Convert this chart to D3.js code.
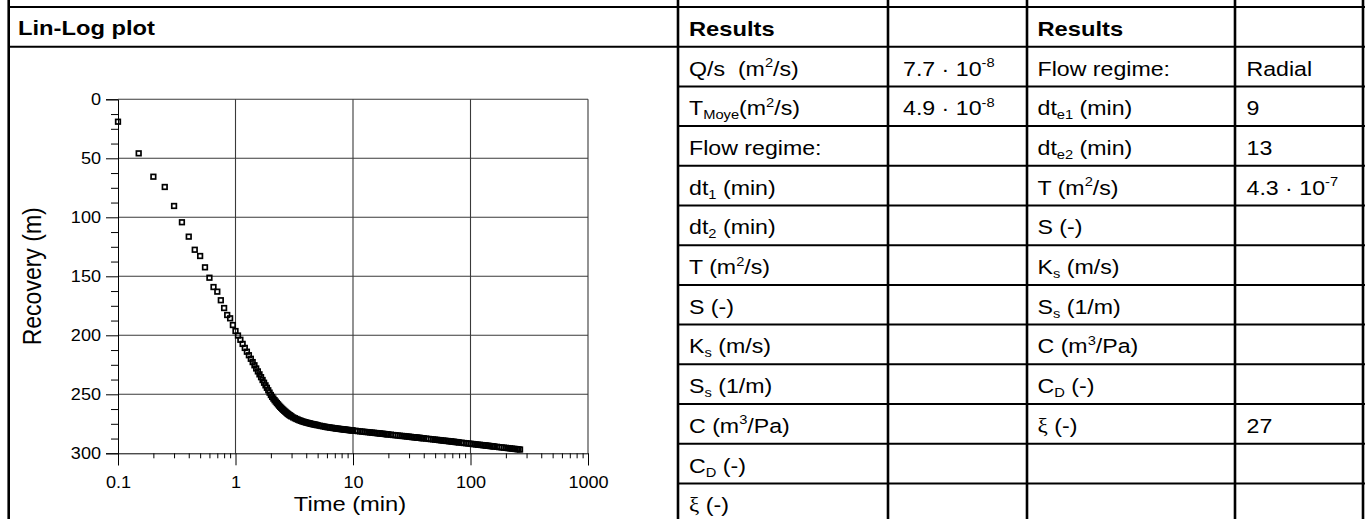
<!DOCTYPE html>
<html>
<head>
<meta charset="utf-8">
<script src="https://cdn.jsdelivr.net/npm/d3@7"></script>
<style>
  html, body { margin: 0; padding: 0; background: #fff; overflow: hidden; }
  text { white-space: pre; }
</style>
</head>
<body>
<svg id="chart" width="1365" height="519"></svg>
<script>
// ---- Recovery test data (time since shut-in, min / recovery, m) ----
const earlyTime = [0.1,0.15,0.2,0.25,0.3,0.35,0.4,0.45,0.5,0.55,0.6,0.65,0.7,0.75,0.8,0.85,0.9,0.95,
  1.0,1.05,1.1,1.15,1.2,1.25,1.3,1.35,1.4,1.45,1.5,1.55,1.6,1.65,1.7,1.75,1.8,1.85,1.9,1.95,2.0,
  2.05,2.1,2.15,2.2,2.25,2.3,2.35,2.4,2.45,2.5,2.55,2.6,2.65,2.7,2.75,2.8,2.85,2.9,2.95,3.0];
const earlyRecovery = [19,45.8,65.6,74.3,90.4,104.2,116.4,127.5,132.8,142.4,151.2,159.1,163,170.3,176.9,182.8,185.6,191.3,
  196.4,200.2,203.8,207.3,210.7,213.9,216.9,219.9,222.7,225.4,228.1,230.6,233.1,235.5,237.9,240.2,242.4,244.5,246.6,248.6,250.6,
  252.2,253.6,255.0,256.2,257.4,258.5,259.6,260.6,261.5,262.4,263.2,264.0,264.7,265.4,266.1,266.7,267.3,267.8,268.3,268.8];

const lateTime = [3.1,3.2,3.3,3.4,3.5,3.6,3.7,3.8,3.9,4.0,4.1,4.2,4.3,4.4,4.5,4.6,4.7,4.8,4.9,5.0,
  5.2,5.4,5.6,5.8,6.0,6.2,6.4,6.6,6.8,7.0,7.2,7.4,7.6,7.8,8.0,8.2,8.4,8.6,8.8,9.0,9.2,9.4,9.6,9.8,10.0,
  10.5,11,11.5,12,12.5,13,13.5,14,14.5,15,15.5,16,16.5,17,17.5,18,18.5,19,19.5,20,
  21,22,23,24,25,26,27,28,29,30,31,32,33,34,35,36,37,38,39,40,
  42,44,46,48,50,52,54,56,58,60,62,64,66,68,70,72,74,76,78,80,
  84,88,92,96,100,104,108,112,116,120,124,128,132,136,140,144,148,152,156,160,
  168,176,184,192,200,208,216,224,232,240,248,256,264];
const lateRecovery = [269.6,270.3,270.9,271.5,272.0,272.5,272.9,273.3,273.6,273.9,274.2,274.5,274.7,275.0,275.2,275.4,275.6,275.8,276.0,276.2,
  276.6,276.9,277.2,277.5,277.8,278.0,278.2,278.4,278.6,278.8,279.0,279.1,279.3,279.4,279.6,279.7,279.8,279.9,280.1,280.2,280.3,280.4,280.5,280.6,280.7,
  280.9,281.2,281.4,281.6,281.8,282.0,282.1,282.3,282.5,282.6,282.8,282.9,283.1,283.2,283.4,283.5,283.6,283.8,283.9,284.0,
  284.2,284.5,284.7,284.9,285.1,285.3,285.4,285.6,285.8,285.9,286.1,286.3,286.4,286.5,286.7,286.8,286.9,287.1,287.2,287.3,
  287.5,287.8,288.0,288.2,288.4,288.6,288.8,289.0,289.2,289.3,289.5,289.6,289.8,289.9,290.1,290.2,290.4,290.5,290.6,290.8,
  291.0,291.3,291.5,291.7,291.9,292.1,292.3,292.5,292.7,292.8,293.0,293.1,293.3,293.4,293.6,293.7,293.9,294.0,294.1,294.3,
  294.5,294.8,295.0,295.2,295.4,295.6,295.8,296.0,296.2,296.3,296.5,296.6,296.8];

// ---- Axes ----
const xTickValues = [0.1, 1, 10, 100, 1000];
const xTickLabels = ["0.1", "1", "10", "100", "1000"];
const yTickValues = [0, 50, 100, 150, 200, 250, 300];
const yTickLabels = ["0", "50", "100", "150", "200", "250", "300"];
const plotTitle = "Lin-Log plot";
const xTitle = "Time (min)";
const yTitle = "Recovery (m)";

// ---- Results table (markup: _{sub}, ^{sup}) ----
const resultsLabelsA = ["Results", "Q/s  (m^{2}/s)", "T_{Moye}(m^{2}/s)", "Flow regime:", "dt_{1} (min)", "dt_{2} (min)",
  "T (m^{2}/s)", "S (-)", "K_{s} (m/s)", "S_{s} (1/m)", "C (m^{3}/Pa)", "C_{D} (-)", "ξ (-)"];
const resultsValuesA = ["", "7.7 · 10^{-8}", "4.9 · 10^{-8}", "", "", "", "", "", "", "", "", "", ""];
const resultsLabelsB = ["Results", "Flow regime:", "dt_{e1} (min)", "dt_{e2} (min)", "T (m^{2}/s)", "S (-)",
  "K_{s} (m/s)", "S_{s} (1/m)", "C (m^{3}/Pa)", "C_{D} (-)", "ξ (-)", "", ""];
const resultsValuesB = ["", "Radial", "9", "13", "4.3 · 10^{-7}", "", "", "", "", "", "27", "", ""];

// ---- Drawing ----
const SANS = "'Liberation Sans', Arial, Helvetica, sans-serif";
const SERIF = "'Liberation Serif', 'Times New Roman', serif";
const SX = 1.13;   // glyphs are set slightly wide
const svg = d3.select("#chart");

function parseRich(s) {
  const out = [];
  const re = /_\{([^}]*)\}|\^\{([^}]*)\}|(ξ)/g;
  let last = 0, m;
  while ((m = re.exec(s))) {
    if (m.index > last) out.push({ t: s.slice(last, m.index), k: "n" });
    if (m[1] !== undefined) out.push({ t: m[1], k: "sub" });
    else if (m[2] !== undefined) out.push({ t: m[2], k: "sup" });
    else out.push({ t: "ξ", k: "xi" });
    last = re.lastIndex;
  }
  if (last < s.length) out.push({ t: s.slice(last), k: "n" });
  return out;
}

function richText(parent, x, y, str, opts = {}) {
  const size = opts.size || 20;
  const t = parent.append("text")
    .attr("transform", `translate(${x},${y}) scale(${SX},1)` + (opts.rotate ? ` rotate(${opts.rotate})` : ""))
    .attr("font-family", SANS)
    .attr("font-size", size)
    .attr("font-weight", opts.weight || "normal")
    .attr("text-anchor", opts.anchor || "start")
    .attr("fill", "#000");
  let cur = 0;
  parseRich(str).forEach(p => {
    const target = p.k === "sub" ? 4 : p.k === "sup" ? -8.5 : 0;
    const ts = t.append("tspan").text(p.t).attr("dy", target - cur);
    cur = target;
    if (p.k === "sub" || p.k === "sup") ts.attr("font-size", Math.round(size * 0.65));
    if (p.k === "xi") ts.attr("font-family", SERIF);
  });
  return t;
}

// Frame and table grid
const colX = [678, 888, 1027, 1235, 1363];
const rowTop = 7, rowH = 39.7, nRows = 13;
const frameLeft = 8.7;
const lines = svg.append("g").attr("stroke", "#000");

lines.append("line").attr("x1", frameLeft).attr("x2", frameLeft).attr("y1", 0).attr("y2", 519).attr("stroke-width", 2.6);
colX.forEach(cx => lines.append("line").attr("x1", cx).attr("x2", cx).attr("y1", 0).attr("y2", 519).attr("stroke-width", 2.6));
[rowTop, rowTop + rowH].forEach(yy =>
  lines.append("line").attr("x1", frameLeft).attr("x2", 1365).attr("y1", yy).attr("y2", yy).attr("stroke-width", 2));
d3.range(2, nRows).forEach(i => {
  const yy = rowTop + i * rowH;
  lines.append("line").attr("x1", colX[0]).attr("x2", 1365).attr("y1", yy).attr("y2", yy).attr("stroke-width", 2);
});

// Titles
richText(svg, 18, 35, plotTitle, { size: 21, weight: "bold" });

const textX = [689, 903, 1037.5, 1246.5];
const columns = [resultsLabelsA, resultsValuesA, resultsLabelsB, resultsValuesB];
columns.forEach((col, c) => {
  col.forEach((s, i) => {
    if (!s) return;
    const bold = i === 0;
    richText(svg, textX[c], rowTop + i * rowH + 28.8, s, { size: bold ? 21 : 20.5, weight: bold ? "bold" : "normal" });
  });
});

// Plot
const x = d3.scaleLog().domain([0.1, 1000]).range([118, 588]);
const y = d3.scaleLinear().domain([0, 300]).range([99.3, 453.3]);
const plot = svg.append("g");

// Grid
plot.append("g").selectAll("line").data(xTickValues.slice(1)).join("line")
  .attr("x1", d => x(d)).attr("x2", d => x(d)).attr("y1", y(0)).attr("y2", y(300))
  .attr("stroke", "#3a3a3a").attr("stroke-width", 1.1);
plot.append("g").selectAll("line").data(yTickValues.slice(0, -1)).join("line")
  .attr("x1", x(0.1)).attr("x2", x(1000)).attr("y1", d => y(d)).attr("y2", d => y(d))
  .attr("stroke", "#3a3a3a").attr("stroke-width", 1.1);

// Minor tick positions
const xMinor = [];
[0.1, 1, 10, 100].forEach(dec => d3.range(2, 10).forEach(k => xMinor.push(+(dec * k).toPrecision(3))));
const yMinor = d3.range(0, 300, 12.5).filter(v => v % 50 !== 0);

const xAxis = plot.append("g").attr("transform", `translate(0,${y(300)})`)
  .call(d3.axisBottom(x).tickValues(xTickValues).tickSize(12).tickPadding(11)
    .tickFormat((d, i) => xTickLabels[i]));
plot.append("g").attr("transform", `translate(0,${y(300)})`)
  .call(d3.axisBottom(x).tickValues(xMinor).tickSize(5).tickSizeOuter(0).tickFormat(""))
  .call(g => g.select(".domain").remove());

const yAxis = plot.append("g").attr("transform", `translate(${x(0.1)},0)`)
  .call(d3.axisLeft(y).tickValues(yTickValues).tickSize(12).tickPadding(5)
    .tickFormat((d, i) => yTickLabels[i]));
plot.append("g").attr("transform", `translate(${x(0.1)},0)`)
  .call(d3.axisLeft(y).tickValues(yMinor).tickSize(7).tickSizeOuter(0).tickFormat(""))
  .call(g => g.select(".domain").remove());

plot.selectAll(".tick line").attr("stroke", "#000");
plot.selectAll(".domain").attr("stroke", "#000");

xAxis.selectAll("text")
  .attr("font-family", SANS).attr("font-size", 16).attr("fill", "#000")
  .attr("transform", `scale(${SX},1)`);
yAxis.selectAll("text")
  .attr("font-family", SANS).attr("font-size", 16).attr("fill", "#000")
  .attr("x", -17 / SX)
  .attr("transform", `scale(${SX},1)`);

// Axis titles
richText(svg, (x(0.1) + x(1000)) / 2 - 3, 511, xTitle, { size: 21, anchor: "middle" });
richText(svg, 41, (y(0) + y(300)) / 2, yTitle, { size: 23, anchor: "middle", rotate: -90 });

// Markers
const points = earlyTime.map((t, i) => ({ t, r: earlyRecovery[i] }))
  .concat(lateTime.map((t, i) => ({ t, r: lateRecovery[i] })));
const S = 4.6;
plot.append("g").selectAll("rect").data(points).join("rect")
  .attr("x", d => x(d.t) - S / 2).attr("y", d => y(d.r) - S / 2)
  .attr("width", S).attr("height", S)
  .attr("fill", "none").attr("stroke", "#000").attr("stroke-width", 1.7);
</script>
</body>
</html>
